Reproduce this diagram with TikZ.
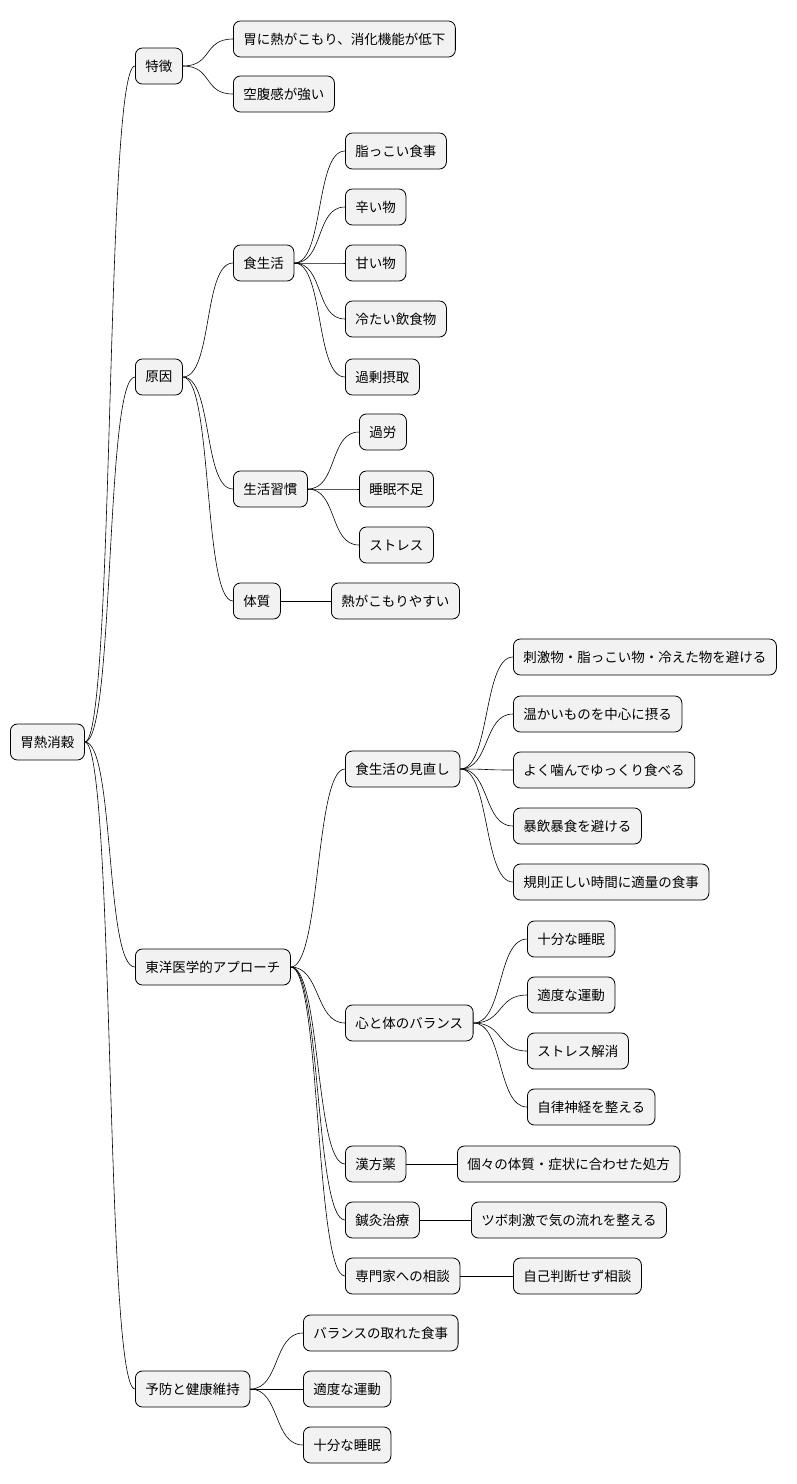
\documentclass[tikz,border=0pt]{standalone}
\usepackage{fontspec}
\setmainfont{Noto Sans CJK JP}
\begin{document}
\begin{tikzpicture}[x=1pt,y=-1pt,
  box/.style={draw=black,fill=black!5,rounded corners=7pt,minimum height=36pt,inner xsep=10pt,anchor=west,font=\fontsize{13.5}{16}\selectfont,line width=0.8pt},
  e/.style={line width=0.6pt}]
\useasboundingbox (0,0) rectangle (796,1484);
\node[box] (r) at (10,742) {胃熱消穀};
\node[box] (a) at (135,66) {特徴};
\node[box] (a1) at (233,39) {胃に熱がこもり、消化機能が低下};
\node[box] (a2) at (233,94) {空腹感が強い};
\node[box] (b) at (135,377) {原因};
\node[box] (b1) at (233,263) {食生活};
\node[box] (b11) at (345,151) {脂っこい食事};
\node[box] (b12) at (345,207) {辛い物};
\node[box] (b13) at (345,263) {甘い物};
\node[box] (b14) at (345,319) {冷たい飲食物};
\node[box] (b15) at (345,377) {過剰摂取};
\node[box] (b2) at (233,489) {生活習慣};
\node[box] (b21) at (359,432) {過労};
\node[box] (b22) at (359,489) {睡眠不足};
\node[box] (b23) at (359,545) {ストレス};
\node[box] (b3) at (233,601) {体質};
\node[box] (b31) at (331,601) {熱がこもりやすい};
\node[box] (c) at (135,967) {東洋医学的アプローチ};
\node[box] (c1) at (345,769) {食生活の見直し};
\node[box] (c11) at (513,657) {刺激物・脂っこい物・冷えた物を避ける};
\node[box] (c12) at (513,714) {温かいものを中心に摂る};
\node[box] (c13) at (513,770) {よく噛んでゆっくり食べる};
\node[box] (c14) at (513,826) {暴飲暴食を避ける};
\node[box] (c15) at (513,882) {規則正しい時間に適量の食事};
\node[box] (c2) at (345,1023) {心と体のバランス};
\node[box] (c21) at (527,939) {十分な睡眠};
\node[box] (c22) at (527,995) {適度な運動};
\node[box] (c23) at (527,1051) {ストレス解消};
\node[box] (c24) at (527,1107) {自律神経を整える};
\node[box] (c3) at (345,1164) {漢方薬};
\node[box] (c31) at (457,1164) {個々の体質・症状に合わせた処方};
\node[box] (c4) at (345,1220) {鍼灸治療};
\node[box] (c41) at (471,1220) {ツボ刺激で気の流れを整える};
\node[box] (c5) at (345,1276) {専門家への相談};
\node[box] (c51) at (513,1276) {自己判断せず相談};
\node[box] (d) at (135,1389) {予防と健康維持};
\node[box] (d1) at (303,1333) {バランスの取れた食事};
\node[box] (d2) at (303,1389) {適度な運動};
\node[box] (d3) at (303,1445) {十分な睡眠};
\foreach \p/\c in {r/a,r/b,r/c,r/d,a/a1,a/a2,b/b1,b/b2,b/b3,b1/b11,b1/b12,b1/b13,b1/b14,b1/b15,b2/b21,b2/b22,b2/b23,b3/b31,c/c1,c/c2,c/c3,c/c4,c/c5,c1/c11,c1/c12,c1/c13,c1/c14,c1/c15,c2/c21,c2/c22,c2/c23,c2/c24,c3/c31,c4/c41,c5/c51,d/d1,d/d2,d/d3}
  \draw[e] (\p.east) .. controls ([xshift=30pt]\p.east) and ([xshift=-30pt]\c.west) .. (\c.west);
\end{tikzpicture}
\end{document}
